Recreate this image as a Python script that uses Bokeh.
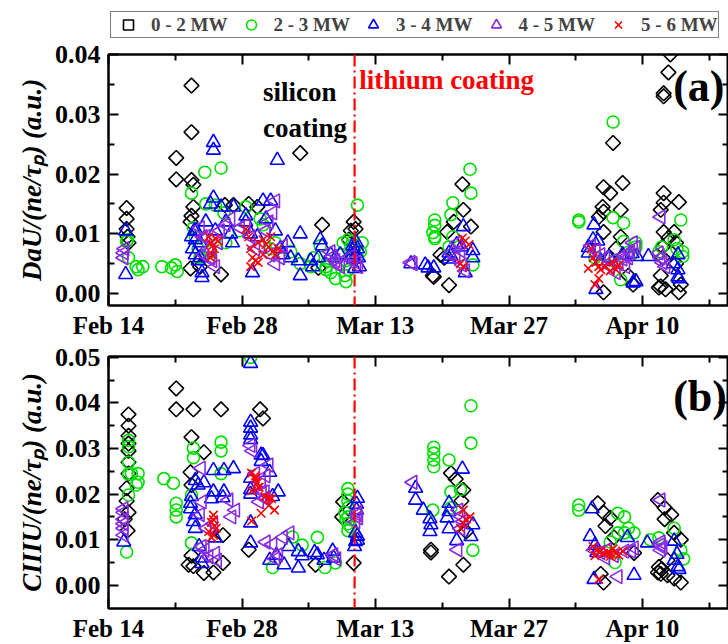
from bokeh.plotting import figure
from bokeh.models import (LinearAxis, FixedTicker, PrintfTickFormatter, Span, Label,
                          Legend, LegendItem, Range1d)
from bokeh.layouts import column
from bokeh.embed import file_html
from bokeh.resources import INLINE
import math

# x values: days since Feb 14 (2012)
tick_days = [0, 14, 28, 42, 56]
tick_labels = ["Feb 14", "Feb 28", "Mar 13", "Mar 27", "Apr 10"]
minor_days = [7, 21, 35, 49, 63]
lithium_day = 25.8

series_names = ["0 - 2 MW", "2 - 3 MW", "3 - 4 MW", "4 - 5 MW", "5 - 6 MW"]

# ---------------- panel (a): DaU/(ne/tau_p) ----------------
a_black_x = [1.9, 1.9, 1.9, 2.0, 2.1, 7.1, 7.1, 8.7, 8.7, 8.7, 8.7, 8.9, 8.9, 8.6, 8.6, 9.6, 11.8, 12.2, 14.7,
             13.1, 15.6, 20.1, 22.4, 22.0, 25.2, 25.4, 25.7, 25.9,
             34.1, 34.0, 35.7, 35.5, 36.2, 37.1, 37.2, 38.0, 34.8, 35.2,
             52.9, 51.9, 51.9, 51.9, 51.9, 52.6, 53.9, 51.8, 53.7, 53.7, 51.4, 55.0, 54.5, 53.2, 52.4,
             58.7, 58.2, 58.2, 58.9, 58.2, 58.2, 58.2, 59.8, 59.8, 57.9, 57.9, 57.9, 59.3, 58.7, 57.7,
             58.4, 60.0, 58.1, 58.1, 59.5, 59.5]
a_black_y = [0.0143, 0.0125, 0.0108, 0.0095, 0.0085, 0.0227, 0.0191, 0.0348, 0.027, 0.019, 0.013, 0.0182, 0.0145,
             0.012, 0.0042, 0.0045, 0.0032, 0.0148, 0.015, 0.0148, 0.0145, 0.0235, 0.0115, 0.0043, 0.009, 0.0105,
             0.012, 0.0108,
             0.0028, 0.003, 0.0014, 0.0103, 0.012, 0.0183, 0.014, 0.0112, 0.0065, 0.006,
             0.0252, 0.0178, 0.0137, 0.0103, 0.0002, 0.0168, 0.0185, 0.0145, 0.014, 0.0095, 0.0128, 0.0015,
             0.003, 0.0075, 0.006,
             0.037, 0.033, 0.0335, 0.04, 0.0168, 0.0152, 0.0103, 0.0153, 0.0002, 0.014, 0.0012, 0.003, 0.0103,
             0.0093, 0.001, 0.0007, 0.0015, 0.0078, 0.006, 0.0085, 0.005]

a_green_x = [1.9, 2.0, 2.1, 2.9, 3.1, 3.6, 5.6, 6.6, 7.0, 7.2,
             10.1, 11.8, 8.7, 8.9, 10.2, 11.2, 12.1, 9.6, 10.7, 12.3, 9.1, 9.4,
             14.4, 15.9, 17.5, 19.1, 20.1, 21.2, 22.2, 22.8, 23.3, 23.8, 24.3, 24.9, 25.2, 25.4, 25.6, 26.1,
             25.8, 26.1, 26.4, 26.6, 24.6, 23.0, 21.5, 17.0, 16.2, 13.7, 24.9, 24.8, 22.8, 25.1,
             37.9, 38.0, 36.1, 35.9, 34.2, 34.2, 34.2, 34.2, 36.1, 38.2, 35.7, 34.0,
             52.9, 49.3, 49.3, 52.9, 54.0, 54.0, 55.3, 55.3, 57.7, 59.3, 60.0, 60.2, 60.2, 53.0, 53.7,
             51.0, 54.8, 58.0, 59.6]
a_green_y = [0.0087, 0.009, 0.006, 0.0045, 0.004, 0.0045, 0.0045, 0.0043, 0.0048, 0.0037,
             0.0203, 0.021, 0.0168, 0.011, 0.015, 0.0148, 0.0135, 0.006, 0.007, 0.0085, 0.0095, 0.0075,
             0.0145, 0.0125, 0.0085, 0.007, 0.005, 0.0045, 0.008, 0.0045, 0.0035, 0.0025, 0.0065, 0.0055, 0.004,
             0.008, 0.0088, 0.0148, 0.0075, 0.006, 0.007, 0.0085, 0.0085, 0.0055, 0.006, 0.0075, 0.0115, 0.0105,
             0.002, 0.003, 0.004, 0.009,
             0.0208, 0.0168, 0.0152, 0.0132, 0.0123, 0.0114, 0.0095, 0.0092, 0.0095, 0.0048, 0.0078, 0.0102,
             0.0287, 0.0123, 0.012, 0.0127, 0.0118, 0.0087, 0.0085, 0.0078, 0.007, 0.009, 0.0123, 0.007, 0.0062,
             0.0055, 0.0023, 0.006, 0.0065, 0.0078, 0.0075]

a_blue_x = [1.8, 1.8,
            11.0, 11.0, 11.0, 10.7, 11.8, 13.1, 8.8, 9.1, 9.1, 9.2, 9.4, 9.6, 9.6, 9.8, 9.8, 10.2, 11.2, 12.3,
            12.8, 13.0, 8.7, 9.0,
            14.4, 14.4, 14.9, 15.1, 16.2, 17.0, 17.7, 17.5, 18.0, 18.3, 19.1, 19.9, 20.1, 20.1, 21.2, 21.4,
            22.0, 22.2, 22.4, 23.3, 23.8, 24.3, 25.6, 25.6, 25.6, 25.7, 25.8, 26.0, 26.1, 26.2, 26.3,
            18.8, 16.5, 15.6,
            31.7, 33.2, 34.1, 33.5, 35.7, 35.9, 37.2, 38.2, 38.2, 37.4, 35.7, 36.5, 37.0,
            50.9, 50.8, 51.3, 50.3, 50.3, 51.1, 55.0, 55.3, 56.6, 55.4, 59.7, 59.7, 59.7, 59.8, 53.9, 54.9,
            51.6, 52.5, 59.2]
a_blue_y = [0.0105, 0.0032,
            0.0253, 0.024, 0.016, 0.015, 0.0145, 0.0145, 0.0075, 0.0065, 0.009, 0.0105, 0.0055, 0.006, 0.0085,
            0.0027, 0.0035, 0.012, 0.0105, 0.012, 0.01, 0.0085, 0.0095, 0.0105,
            0.013, 0.012, 0.01, 0.0035, 0.0155, 0.0155, 0.0223, 0.0105, 0.0075, 0.0065, 0.006, 0.0055, 0.01,
            0.003, 0.0055, 0.0045, 0.006, 0.009, 0.008, 0.0065, 0.006, 0.0065, 0.008, 0.0072, 0.0065, 0.0058,
            0.0042, 0.0085, 0.0075, 0.006, 0.0045,
            0.0085, 0.0125, 0.0095,
            0.005, 0.0048, 0.0043, 0.0043, 0.0068, 0.0063, 0.0112, 0.006, 0.0072, 0.0035, 0.0058, 0.0082, 0.0078,
            0.0115, 0.009, 0.0088, 0.0077, 0.0068, 0.0007, 0.0018, 0.002, 0.0062, 0.0062, 0.0065, 0.004, 0.0028,
            0.0025, 0.0065, 0.0067, 0.0055, 0.006, 0.005]

a_purple_x = [1.6, 1.6, 1.7,
              9.6, 10.2, 10.5, 10.7, 10.9, 11.2, 11.5, 11.7, 12.3, 12.8, 13.8, 14.4, 14.9, 15.4, 15.9, 16.5,
              16.8, 17.2, 17.5, 17.0, 17.5, 18.0, 18.3, 9.9, 10.0,
              23.3, 23.5, 23.8, 24.0, 24.3, 25.4, 25.6, 26.0, 26.2,
              31.7, 31.9, 35.9, 36.4, 36.9, 37.1, 37.4, 36.6,
              51.1, 51.6, 52.1, 52.9, 53.5, 53.9, 54.2, 54.7, 55.3, 55.0, 54.2, 52.6, 54.5, 57.9, 57.7, 57.9,
              58.1, 58.4, 50.6, 53.2]
a_purple_y = [0.0068, 0.006, 0.0075,
              0.011, 0.0095, 0.0075, 0.006, 0.0055, 0.0045, 0.0085, 0.0105, 0.0115, 0.0125, 0.011, 0.0115,
              0.0095, 0.0075, 0.008, 0.0105, 0.012, 0.0135, 0.0155, 0.0065, 0.005, 0.006, 0.008, 0.0095, 0.0065,
              0.007, 0.0062, 0.0055, 0.005, 0.0045, 0.0062, 0.0055, 0.0052, 0.0045,
              0.0052, 0.005, 0.0068, 0.006, 0.0072, 0.0048, 0.0038, 0.0085,
              0.0072, 0.0065, 0.006, 0.0055, 0.005, 0.0058, 0.0065, 0.007, 0.0077, 0.0085, 0.0045, 0.0045, 0.006,
              0.0128, 0.0068, 0.006, 0.0052, 0.0045, 0.008, 0.0035]

a_red_x = [10.5, 10.7, 10.9, 11.1, 10.9, 10.7, 11.2, 11.5,
           14.4, 14.7, 14.9, 15.1, 14.9, 15.4, 15.7, 16.2, 16.5, 16.8, 17.2, 17.5, 17.0, 16.2, 15.7, 17.8,
           37.1, 37.4, 37.8, 36.9, 37.2,
           50.6, 50.8, 51.1, 51.4, 51.6, 51.4, 51.0, 52.1, 52.6, 53.2, 53.5, 52.9, 50.3]
a_red_y = [0.0095, 0.0085, 0.008, 0.0075, 0.0065, 0.006, 0.0092, 0.0088,
           0.0108, 0.0095, 0.0075, 0.006, 0.0045, 0.0055, 0.0085, 0.009, 0.0082, 0.0078, 0.007, 0.0065, 0.0095,
           0.0065, 0.0052, 0.0075,
           0.0093, 0.0088, 0.0082, 0.005, 0.0045,
           0.0075, 0.006, 0.0052, 0.0045, 0.004, 0.0025, 0.0015, 0.0045, 0.0038, 0.004, 0.0048, 0.0052, 0.0042]

# ---------------- panel (b): CIIIU/(ne/tau_p) ----------------
b_black_x = [2.1, 2.1, 2.1, 2.1, 2.1, 2.1, 2.1, 1.9, 1.9, 2.1, 1.7, 2.0,
             7.1, 7.1, 8.9, 11.8, 15.9, 8.7, 10.0, 8.4, 8.9, 10.0, 11.0, 12.0, 12.0, 8.7, 8.6, 8.7,
             14.7, 16.2, 21.7, 25.7, 24.6, 24.5,
             33.8, 33.8, 35.7, 35.9, 36.4, 37.2, 37.0, 37.2, 37.5,
             51.3, 51.9, 52.6, 52.1, 51.9, 51.6, 55.1, 53.0,
             57.6, 58.3, 59.0, 58.3, 59.3, 60.0, 57.6, 57.9, 58.6, 60.0, 59.3, 58.6, 57.7, 58.0]
b_black_y = [0.0375, 0.035, 0.0328, 0.0311, 0.0295, 0.027, 0.0245, 0.0213, 0.0185, 0.016, 0.0145, 0.012,
             0.0432, 0.0386, 0.0386, 0.0386, 0.0386, 0.0325, 0.0292, 0.0045, 0.0042, 0.0027, 0.0028, 0.0049,
             0.011, 0.0065, 0.0248, 0.022,
             0.0078, 0.0366, 0.0045, 0.0049, 0.0183, 0.015,
             0.0078, 0.0072, 0.0019, 0.0246, 0.0233, 0.0209, 0.0185, 0.0045, 0.0118,
             0.018, 0.0159, 0.0148, 0.013, 0.0006, 0.0025, 0.0071, 0.0105,
             0.0187, 0.017, 0.0155, 0.0145, 0.0115, 0.01, 0.0028, 0.0025, 0.0022, 0.0006, 0.0015, 0.0055,
             0.004, 0.0035]

b_green_x = [2.1, 2.1, 2.1, 2.1, 2.4, 3.1, 3.1, 2.9, 2.1, 1.9,
             5.8, 6.8, 7.1, 7.1, 7.1,
             8.9, 8.9, 8.7, 8.7, 11.8, 11.8, 11.8, 14.9,
             19.3, 21.9, 20.3, 17.2, 22.7, 23.8,
             25.1, 25.1, 25.1, 25.1, 25.1, 25.1, 25.1, 25.4, 24.8, 24.9,
             34.1, 34.1, 34.1, 34.1, 38.0, 38.0, 35.7, 35.9, 36.9, 34.0, 35.9, 38.2,
             49.3, 49.3, 53.4, 54.1, 53.4, 54.1, 55.1, 53.1, 56.8, 57.7, 60.0, 59.3, 60.3, 52.6, 54.5]
b_green_y = [0.0318, 0.0304, 0.027, 0.0244, 0.0245, 0.0245, 0.0226, 0.022, 0.0198, 0.0073,
             0.0234, 0.0224, 0.018, 0.0165, 0.015,
             0.0301, 0.028, 0.0093, 0.0198, 0.0314, 0.0295, 0.0245, 0.05,
             0.0106, 0.0105, 0.0088, 0.0039, 0.0039, 0.0049,
             0.0212, 0.02, 0.0185, 0.017, 0.015, 0.0135, 0.012, 0.0128, 0.016, 0.0145,
             0.0303, 0.029, 0.0275, 0.026, 0.0394, 0.0312, 0.0275, 0.0205, 0.021, 0.0165, 0.017, 0.0077,
             0.0176, 0.0165, 0.0158, 0.015, 0.0115, 0.0115, 0.0115, 0.005, 0.01, 0.0104, 0.0077, 0.0125, 0.0058,
             0.0095, 0.0125]

b_blue_x = [1.6,
            14.9, 14.9, 14.9, 14.9, 14.9, 16.0, 16.0, 14.9, 14.9, 14.9, 14.9, 14.9,
            9.1, 9.4, 8.7, 8.6, 8.6, 9.1, 8.9, 9.1, 9.8, 9.8, 10.0, 11.0, 12.1, 13.1, 11.0, 12.1, 10.8, 12.0,
            11.2, 9.5,
            16.2, 16.9, 17.8, 17.2, 18.9, 19.9, 20.3, 19.9, 21.6, 21.9, 17.6, 16.9, 18.4, 23.5, 23.6, 22.6,
            26.1, 26.0, 25.9, 26.1, 26.1, 25.9, 26.0, 25.8,
            32.2, 32.2, 33.0, 33.7, 33.8, 33.7, 35.7, 35.7, 35.5, 35.7, 37.1, 38.2, 38.0, 36.5,
            50.7, 50.5, 51.0, 50.9, 54.4, 55.1, 56.5, 59.3, 59.6, 59.7, 59.8, 59.3, 51.2]
b_blue_y = [0.0095,
            0.0487, 0.0358, 0.0345, 0.033, 0.032, 0.0286, 0.0272, 0.0235, 0.021, 0.02, 0.0137, 0.0093,
            0.023, 0.022, 0.0195, 0.018, 0.0168, 0.0155, 0.014, 0.0125, 0.0048, 0.006, 0.0225, 0.0252, 0.0252,
            0.0256, 0.0205, 0.0205, 0.019, 0.0192, 0.0104, 0.0085,
            0.0285, 0.0248, 0.0205, 0.0195, 0.0085, 0.0074, 0.0065, 0.0038, 0.0072, 0.0067, 0.0066, 0.0055,
            0.0045, 0.0075, 0.006, 0.0055,
            0.0191, 0.0178, 0.0115, 0.0108, 0.0099, 0.0096, 0.0165, 0.0085,
            0.0213, 0.0187, 0.0165, 0.0146, 0.0133, 0.0118, 0.018, 0.0162, 0.0148, 0.0124, 0.0255, 0.0133,
            0.0107, 0.0098,
            0.0168, 0.0107, 0.0088, 0.0013, 0.0105, 0.0022, 0.0093, 0.0097, 0.0068, 0.0041, 0.0035, 0.0055,
            0.0072]

b_purple_x = [1.6, 1.6, 1.6, 1.6, 1.6, 1.6,
              9.7, 9.8, 9.6, 9.8, 10.1, 10.5, 11.2, 11.4, 12.6, 13.3, 12.9, 14.9, 15.1, 15.4, 16.0, 16.4, 16.4,
              10.3, 11.0,
              16.8, 16.5, 16.1, 16.5, 15.8, 16.5, 17.2, 17.8, 17.5, 23.6, 23.9, 19.0, 18.3,
              26.1, 26.1, 25.9, 26.2,
              31.9, 36.7, 36.9, 36.9, 36.6, 37.2,
              50.9, 51.6, 52.3, 53.4, 54.1, 54.8, 55.1, 57.9, 57.9, 57.9, 58.1, 57.9, 53.0, 52.1]
b_purple_y = [0.0168, 0.016, 0.0145, 0.0135, 0.0125, 0.011,
              0.0257, 0.0183, 0.0155, 0.0085, 0.0077, 0.0063, 0.007, 0.0055, 0.0187, 0.0165, 0.015, 0.0307,
              0.0295, 0.0245, 0.0228, 0.0205, 0.019, 0.0125, 0.0135,
              0.0264, 0.024, 0.0205, 0.0192, 0.0183, 0.0095, 0.009, 0.0067, 0.0058, 0.0067, 0.0058, 0.0115, 0.0105,
              0.016, 0.0155, 0.0139, 0.0148,
              0.0226, 0.0165, 0.0152, 0.0124, 0.0078, 0.014,
              0.0077, 0.0072, 0.0078, 0.0019, 0.0075, 0.0075, 0.0082, 0.0187, 0.0095, 0.0089, 0.0083, 0.0077,
              0.0065, 0.006]

b_red_x = [11.0, 11.0, 10.8, 11.0, 10.8, 10.5, 11.3, 11.1,
           15.0, 15.0, 15.0, 15.4, 15.8, 16.0, 16.4, 15.6, 15.4, 15.7, 16.8, 16.8, 17.1, 17.4,
           37.2, 37.9, 37.2, 37.5, 36.9,
           51.2, 51.6, 51.9, 52.3, 52.6, 53.2, 53.5, 51.4, 52.6, 53.9, 52.9, 50.8, 51.0]
b_red_y = [0.0154, 0.0144, 0.0138, 0.011, 0.0105, 0.0118, 0.0125, 0.013,
           0.0246, 0.0207, 0.0141, 0.024, 0.0215, 0.0158, 0.0195, 0.0225, 0.0234, 0.0215, 0.0191, 0.0175,
           0.019, 0.0165,
           0.0165, 0.015, 0.0135, 0.0145, 0.0125,
           0.0077, 0.0075, 0.007, 0.0072, 0.007, 0.007, 0.0066, 0.0013, 0.0063, 0.0075, 0.008, 0.0085, 0.0065]

a_yticks = [0.0, 0.01, 0.02, 0.03, 0.04]
a_yminor = [0.005, 0.015, 0.025, 0.035]
b_yticks = [0.0, 0.01, 0.02, 0.03, 0.04, 0.05]
b_yminor = [0.005, 0.015, 0.025, 0.035, 0.045]

SERIF = "Liberation Serif"
colors = ["#000000", "#00e000", "#0000ff", "#8a2be2", "#ff0000"]
markers = ["square", "circle", "triangle", "triangle", "x"]
angles = [math.pi / 4, 0.0, 0.0, math.pi / 2, 0.0]
sizes = [10.5, 12, 14, 14, 12]


def style_axis(ax, labels=True, font="26px"):
    ax.axis_line_width = 2
    ax.axis_line_color = "black"
    ax.major_tick_line_width = 2
    ax.minor_tick_line_width = 2
    ax.major_tick_in = 10
    ax.major_tick_out = 0
    ax.minor_tick_in = 6
    ax.minor_tick_out = 0
    ax.major_label_text_font = SERIF
    ax.major_label_text_font_style = "bold"
    ax.major_label_text_color = "black"
    if labels:
        ax.major_label_text_font_size = font
    else:
        ax.major_label_text_font_size = "0px"
        ax.major_label_standoff = 0


def make_panel(height, y_range, yticks, yminor, ylabel, border_top, border_bottom, x_range):
    p = figure(width=728, height=height, output_backend="svg", toolbar_location=None,
               x_range=x_range, y_range=y_range, x_axis_type=None, y_axis_type=None,
               min_border_left=108, min_border_right=0, min_border_top=border_top,
               min_border_bottom=border_bottom)
    p.xgrid.visible = False
    p.ygrid.visible = False
    p.outline_line_color = "black"
    p.outline_line_width = 2
    p.background_fill_color = "white"
    p.border_fill_color = "white"

    xt = FixedTicker(ticks=tick_days, minor_ticks=minor_days)
    yt = FixedTicker(ticks=yticks, minor_ticks=yminor)
    overrides = {d: t for d, t in zip(tick_days, tick_labels)}

    xb = LinearAxis(ticker=xt, major_label_overrides=overrides)
    style_axis(xb, True, "25px")
    xb.major_label_standoff = 6
    p.add_layout(xb, "below")
    xa = LinearAxis(ticker=xt)
    style_axis(xa, False)
    xa.major_label_overrides = {d: "" for d in tick_days}
    p.add_layout(xa, "above")

    yl = LinearAxis(ticker=yt, formatter=PrintfTickFormatter(format="%.2f"))
    style_axis(yl, True, "26px")
    yl.major_label_standoff = 8
    yl.axis_label = ylabel
    yl.axis_label_text_font = SERIF
    yl.axis_label_text_font_style = "bold italic"
    yl.axis_label_text_font_size = "27px"
    yl.axis_label_text_color = "black"
    yl.axis_label_standoff = 5
    p.add_layout(yl, "left")
    yr = LinearAxis(ticker=yt)
    style_axis(yr, False)
    yr.major_label_overrides = {t: "" for t in yticks}
    p.add_layout(yr, "right")

    p.add_layout(Span(location=lithium_day, dimension="height", line_color="#ff0000",
                      line_width=2.2, line_dash="12 4 2 4"))
    return p


def add_series(p, xs, ys):
    rends = []
    for i in range(5):
        if markers[i] == "x":
            r = p.scatter(xs[i], ys[i], marker="x", size=sizes[i], line_color=colors[i], line_width=1.6)
        else:
            r = p.scatter(xs[i], ys[i], marker=markers[i], angle=angles[i], size=sizes[i],
                          fill_color=None, line_color=colors[i], line_width=1.6)
        rends.append(r)
    return rends


x_range = Range1d(0, 65.0)

# ---- legend strip (its own ranges keep the sample marks out of view) ----
pl = figure(width=728, height=39, output_backend="svg", toolbar_location=None,
            x_range=Range1d(100, 101), y_range=Range1d(100, 101), x_axis_type=None, y_axis_type=None,
            min_border=0, min_border_left=0, min_border_right=0, min_border_top=0, min_border_bottom=0)
pl.xgrid.visible = False
pl.ygrid.visible = False
pl.outline_line_color = None
leg_r = add_series(pl,
                   [a_black_x[:1], a_green_x[:1], a_blue_x[:1], a_purple_x[:1], a_red_x[:1]],
                   [a_black_y[:1], a_green_y[:1], a_blue_y[:1], a_purple_y[:1], a_red_y[:1]])
legend = Legend(items=[LegendItem(label=n, renderers=[r]) for n, r in zip(series_names, leg_r)],
                orientation="horizontal", location=(2, 1),
                label_text_font=SERIF, label_text_font_style="bold", label_text_font_size="19px",
                glyph_width=34, glyph_height=25, label_standoff=6, spacing=6, padding=0, margin=0,
                label_height=20,
                border_line_color="black", border_line_width=1.2, background_fill_alpha=1.0)
pl.add_layout(legend, "center")

pa = make_panel(302, Range1d(-0.002, 0.04), a_yticks, a_yminor, "DaU/(ne/τₚ) (a.u.)", 15, 35, x_range)
add_series(pa,
           [a_black_x, a_green_x, a_blue_x, a_purple_x, a_red_x],
           [a_black_y, a_green_y, a_blue_y, a_purple_y, a_red_y])

pb = make_panel(303, Range1d(-0.0051, 0.0502), b_yticks, b_yminor, "CIIIU/(ne/τₚ) (a.u.)", 15, 35, x_range)
add_series(pb,
           [b_black_x, b_green_x, b_blue_x, b_purple_x, b_red_x],
           [b_black_y, b_green_y, b_blue_y, b_purple_y, b_red_y])

# annotations
pa.add_layout(Label(x=16.2, y=0.0337, text="silicon", text_font=SERIF, text_font_style="bold",
                    text_font_size="27px", text_color="black", text_baseline="middle"))
pa.add_layout(Label(x=16.2, y=0.0277, text="coating", text_font=SERIF, text_font_style="bold",
                    text_font_size="27px", text_color="black", text_baseline="middle"))
pa.add_layout(Label(x=26.3, y=0.0357, text="lithium coating", text_font=SERIF, text_font_style="bold",
                    text_font_size="27px", text_color="#ff0000", text_baseline="middle"))
pa.add_layout(Label(x=59.2, y=0.0347, text="(a)", text_font=SERIF, text_font_style="bold",
                    text_font_size="44px", text_color="black", text_baseline="middle"))
pb.add_layout(Label(x=59.2, y=0.0415, text="(b)", text_font=SERIF, text_font_style="bold",
                    text_font_size="44px", text_color="black", text_baseline="middle"))

layout = column(pl, pa, pb, spacing=0)
open("out.html", "w").write(file_html(layout, INLINE))
